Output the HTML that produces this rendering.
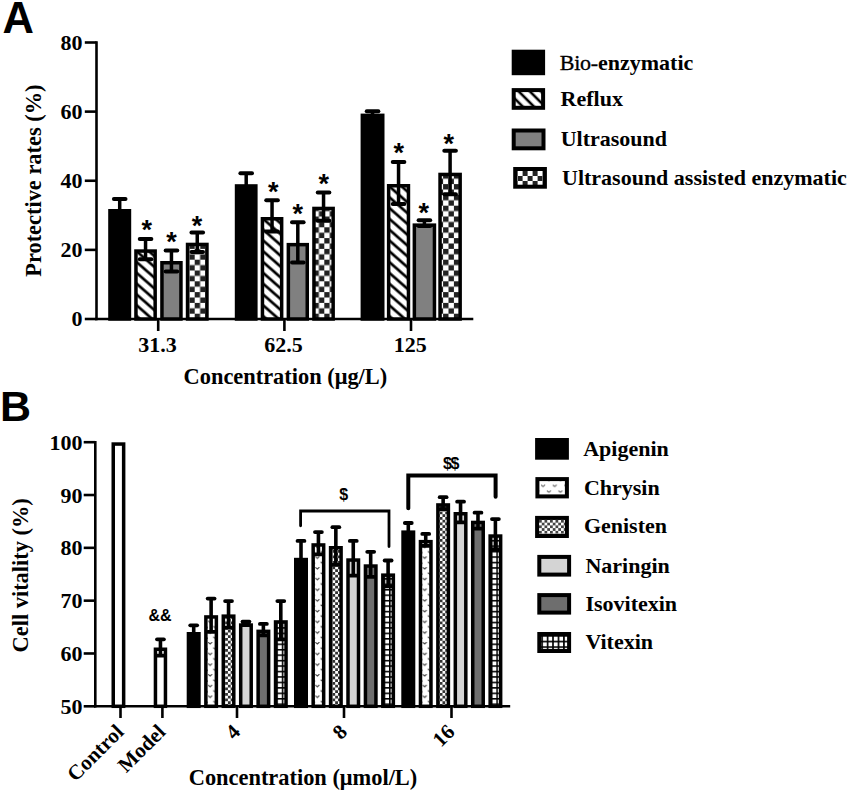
<!DOCTYPE html>
<html><head><meta charset="utf-8"><style>
html,body{margin:0;padding:0;background:#fff;width:852px;height:794px;overflow:hidden}
svg{display:block}
text{font-family:"Liberation Serif",serif;font-weight:bold;fill:#000}
.tA{font-size:22px}
.tB{font-size:22px}
.ax{font-size:22.4px}
.tR{font-size:21px}
.leg{font-size:22px}
.panel{font-family:"Liberation Sans",sans-serif;font-size:43.5px}
.panelB{font-family:"Liberation Sans",sans-serif;font-size:43px}
.ast{font-family:"Liberation Sans",sans-serif;font-size:27px}
.sym{font-family:"Liberation Sans",sans-serif;font-size:16px}
</style></head><body>
<svg width="852" height="794" viewBox="0 0 852 794">
<defs>
<pattern id="hatch" patternUnits="userSpaceOnUse" width="7.8" height="7.8" patternTransform="rotate(-45)">
 <rect width="7.8" height="7.8" fill="#fff"/><rect x="0" y="0" width="3" height="7.8" fill="#000"/></pattern>
<pattern id="hatchL" patternUnits="userSpaceOnUse" width="7.9" height="7.9" patternTransform="translate(519.2,91.9) rotate(-45)">
 <rect width="7.9" height="7.9" fill="#fff"/><rect x="0" y="0" width="1.3" height="7.9" fill="#000"/><rect x="6.6" y="0" width="1.3" height="7.9" fill="#000"/></pattern>
<pattern id="checkA" patternUnits="userSpaceOnUse" width="10.8" height="10.8" x="0.3" y="0.5">
 <rect width="10.8" height="10.8" fill="#fff"/><rect width="5.4" height="5.4" fill="#222"/><rect x="5.4" y="5.4" width="5.4" height="5.4" fill="#222"/></pattern>
<pattern id="checkL" patternUnits="userSpaceOnUse" width="10" height="10" x="517.6" y="171">
 <rect width="10" height="10" fill="#222"/><rect width="5" height="5" fill="#fff"/><rect x="5" y="5" width="5" height="5" fill="#fff"/></pattern>
<pattern id="chrysin" patternUnits="userSpaceOnUse" width="14" height="11.1">
 <rect width="14" height="11.1" fill="#fff"/><path d="M7.5,3 l1.5,2.5 l1.5,-2.5" fill="none" stroke="#999" stroke-width="0.9"/></pattern>
<pattern id="chrysinL" patternUnits="userSpaceOnUse" width="11.6" height="11.6" x="541.1" y="484.5">
 <rect width="11.6" height="11.6" fill="#fff"/><path d="M0,0.5 l2,1.6 l2,-1.8 M5.8,6.3 l2,1.6 l2,-1.8" fill="none" stroke="#555" stroke-width="1"/></pattern>
<pattern id="genis" patternUnits="userSpaceOnUse" width="4.6" height="4.6">
 <rect width="4.6" height="4.6" fill="#fff"/><rect width="2.3" height="2.3" fill="#777"/><rect x="2.3" y="2.3" width="2.3" height="2.3" fill="#777"/></pattern>
<pattern id="grid" patternUnits="userSpaceOnUse" width="5.4" height="5.4" x="0" y="0">
 <rect width="5.4" height="5.4" fill="#000"/><rect x="1.5" y="1.5" width="3.9" height="3.9" fill="#fff"/></pattern>
<pattern id="gridL" patternUnits="userSpaceOnUse" width="5.45" height="5.6" x="541.3" y="635.1">
 <rect width="5.45" height="5.6" fill="#000"/><rect x="1.65" y="1.6" width="3.8" height="4" fill="#fff"/></pattern>
<pattern id="genL" patternUnits="userSpaceOnUse" width="5.5" height="5.5" x="539" y="519.9">
 <rect width="5.5" height="5.5" fill="#fff"/><rect width="2.75" height="2.75" fill="#444"/><rect x="2.75" y="2.75" width="2.75" height="2.75" fill="#444"/></pattern>
<pattern id="chr0" patternUnits="userSpaceOnUse" width="7.6" height="10.7" x="207.92" y="0"><rect width="7.6" height="10.7" fill="#fff"/><path d="M0.2,0.3 l2,1.6 l2,-1.8 M5.4,5.6 l2,1.6 l2,-1.8" fill="none" stroke="#333" stroke-width="1"/></pattern>
<pattern id="gen0" patternUnits="userSpaceOnUse" width="5.5" height="5.5" x="225.14" y="0"><rect width="5.5" height="5.5" fill="#fff"/><rect width="2.75" height="2.75" fill="#333"/><rect x="2.75" y="2.75" width="2.75" height="2.75" fill="#333"/></pattern>
<pattern id="grd0" patternUnits="userSpaceOnUse" width="5.45" height="5.45" x="276.30" y="0.4"><rect width="5.45" height="5.45" fill="#000"/><rect x="1.55" y="1.55" width="3.9" height="3.9" fill="#fff"/></pattern>
<pattern id="chr1" patternUnits="userSpaceOnUse" width="7.6" height="10.7" x="315.22" y="0"><rect width="7.6" height="10.7" fill="#fff"/><path d="M0.2,0.3 l2,1.6 l2,-1.8 M5.4,5.6 l2,1.6 l2,-1.8" fill="none" stroke="#333" stroke-width="1"/></pattern>
<pattern id="gen1" patternUnits="userSpaceOnUse" width="5.5" height="5.5" x="332.44" y="0"><rect width="5.5" height="5.5" fill="#fff"/><rect width="2.75" height="2.75" fill="#333"/><rect x="2.75" y="2.75" width="2.75" height="2.75" fill="#333"/></pattern>
<pattern id="grd1" patternUnits="userSpaceOnUse" width="5.45" height="5.45" x="383.60" y="0.4"><rect width="5.45" height="5.45" fill="#000"/><rect x="1.55" y="1.55" width="3.9" height="3.9" fill="#fff"/></pattern>
<pattern id="chr2" patternUnits="userSpaceOnUse" width="7.6" height="10.7" x="422.52" y="0"><rect width="7.6" height="10.7" fill="#fff"/><path d="M0.2,0.3 l2,1.6 l2,-1.8 M5.4,5.6 l2,1.6 l2,-1.8" fill="none" stroke="#333" stroke-width="1"/></pattern>
<pattern id="gen2" patternUnits="userSpaceOnUse" width="5.5" height="5.5" x="439.74" y="0"><rect width="5.5" height="5.5" fill="#fff"/><rect width="2.75" height="2.75" fill="#333"/><rect x="2.75" y="2.75" width="2.75" height="2.75" fill="#333"/></pattern>
<pattern id="grd2" patternUnits="userSpaceOnUse" width="5.45" height="5.45" x="490.90" y="0.4"><rect width="5.45" height="5.45" fill="#000"/><rect x="1.55" y="1.55" width="3.9" height="3.9" fill="#fff"/></pattern><pattern id="hA0" patternUnits="userSpaceOnUse" width="8.12" height="8.12" patternTransform="translate(137.70,263) rotate(-48.7)"><rect width="8.12" height="8.12" fill="#fff"/><rect x="0" width="1.35" height="8.12" fill="#000"/><rect x="6.77" width="1.35" height="8.12" fill="#000"/></pattern>
<pattern id="hA1" patternUnits="userSpaceOnUse" width="8.12" height="8.12" patternTransform="translate(264.20,263) rotate(-48.7)"><rect width="8.12" height="8.12" fill="#fff"/><rect x="0" width="1.35" height="8.12" fill="#000"/><rect x="6.77" width="1.35" height="8.12" fill="#000"/></pattern>
<pattern id="hA2" patternUnits="userSpaceOnUse" width="8.12" height="8.12" patternTransform="translate(390.40,263) rotate(-48.7)"><rect width="8.12" height="8.12" fill="#fff"/><rect x="0" width="1.35" height="8.12" fill="#000"/><rect x="6.77" width="1.35" height="8.12" fill="#000"/></pattern></defs>
<rect width="852" height="794" fill="#fff"/>
<line x1="96.5" y1="41.2" x2="96.5" y2="320.3" stroke="#000" stroke-width="2.6"/>
<line x1="84.8" y1="319.00" x2="96.5" y2="319.00" stroke="#000" stroke-width="2.6"/>
<text x="82.6" y="326.30" class="tA" text-anchor="end">0</text>
<line x1="84.8" y1="249.88" x2="96.5" y2="249.88" stroke="#000" stroke-width="2.6"/>
<text x="82.6" y="257.18" class="tA" text-anchor="end">20</text>
<line x1="84.8" y1="180.75" x2="96.5" y2="180.75" stroke="#000" stroke-width="2.6"/>
<text x="82.6" y="188.05" class="tA" text-anchor="end">40</text>
<line x1="84.8" y1="111.62" x2="96.5" y2="111.62" stroke="#000" stroke-width="2.6"/>
<text x="82.6" y="118.92" class="tA" text-anchor="end">60</text>
<line x1="84.8" y1="42.50" x2="96.5" y2="42.50" stroke="#000" stroke-width="2.6"/>
<text x="82.6" y="49.80" class="tA" text-anchor="end">80</text>
<line x1="95.2" y1="319.0" x2="473.3" y2="319.0" stroke="#000" stroke-width="2.6"/>
<line x1="158.2" y1="319.0" x2="158.2" y2="331" stroke="#000" stroke-width="2.6"/>
<text x="157.39999999999998" y="352" class="tA" text-anchor="middle">31.3</text>
<line x1="284.4" y1="319.0" x2="284.4" y2="331" stroke="#000" stroke-width="2.6"/>
<text x="283.59999999999997" y="352" class="tA" text-anchor="middle">62.5</text>
<line x1="411.0" y1="319.0" x2="411.0" y2="331" stroke="#000" stroke-width="2.6"/>
<text x="410.2" y="352" class="tA" text-anchor="middle">125</text>
<rect x="109.95" y="210.75" width="19.50" height="108.25" fill="#000" stroke="#000" stroke-width="3.5"/>
<line x1="119.70" y1="199.00" x2="119.70" y2="211.00" stroke="#000" stroke-width="3.5"/>
<line x1="113.90" y1="199.00" x2="125.50" y2="199.00" stroke="#000" stroke-width="4" stroke-linecap="round"/>
<rect x="135.95" y="251.05" width="19.20" height="67.95" fill="url(#hA0)" stroke="#000" stroke-width="3.5"/>
<line x1="145.55" y1="239.00" x2="145.55" y2="259.30" stroke="#000" stroke-width="3.5"/>
<line x1="139.75" y1="239.00" x2="151.35" y2="239.00" stroke="#000" stroke-width="4" stroke-linecap="round"/>
<line x1="139.75" y1="259.30" x2="151.35" y2="259.30" stroke="#000" stroke-width="4" stroke-linecap="round"/>
<rect x="161.95" y="262.75" width="19.00" height="56.25" fill="#808080" stroke="#000" stroke-width="3.5"/>
<line x1="171.45" y1="250.50" x2="171.45" y2="271.50" stroke="#000" stroke-width="3.5"/>
<line x1="165.65" y1="250.50" x2="177.25" y2="250.50" stroke="#000" stroke-width="4" stroke-linecap="round"/>
<line x1="165.65" y1="271.50" x2="177.25" y2="271.50" stroke="#000" stroke-width="4" stroke-linecap="round"/>
<rect x="187.55" y="244.45" width="19.40" height="74.55" fill="url(#checkA)" stroke="#000" stroke-width="3.5"/>
<line x1="197.25" y1="232.50" x2="197.25" y2="252.00" stroke="#000" stroke-width="3.5"/>
<line x1="191.45" y1="232.50" x2="203.05" y2="232.50" stroke="#000" stroke-width="4" stroke-linecap="round"/>
<line x1="191.45" y1="252.00" x2="203.05" y2="252.00" stroke="#000" stroke-width="4" stroke-linecap="round"/>
<rect x="236.55" y="185.95" width="19.30" height="133.05" fill="#000" stroke="#000" stroke-width="3.5"/>
<line x1="246.20" y1="173.20" x2="246.20" y2="186.20" stroke="#000" stroke-width="3.5"/>
<line x1="240.40" y1="173.20" x2="252.00" y2="173.20" stroke="#000" stroke-width="4" stroke-linecap="round"/>
<rect x="262.45" y="218.75" width="19.20" height="100.25" fill="url(#hA1)" stroke="#000" stroke-width="3.5"/>
<line x1="272.05" y1="200.30" x2="272.05" y2="231.40" stroke="#000" stroke-width="3.5"/>
<line x1="266.25" y1="200.30" x2="277.85" y2="200.30" stroke="#000" stroke-width="4" stroke-linecap="round"/>
<line x1="266.25" y1="231.40" x2="277.85" y2="231.40" stroke="#000" stroke-width="4" stroke-linecap="round"/>
<rect x="288.35" y="244.65" width="18.90" height="74.35" fill="#808080" stroke="#000" stroke-width="3.5"/>
<line x1="297.80" y1="222.30" x2="297.80" y2="262.50" stroke="#000" stroke-width="3.5"/>
<line x1="292.00" y1="222.30" x2="303.60" y2="222.30" stroke="#000" stroke-width="4" stroke-linecap="round"/>
<line x1="292.00" y1="262.50" x2="303.60" y2="262.50" stroke="#000" stroke-width="4" stroke-linecap="round"/>
<rect x="313.95" y="208.45" width="19.20" height="110.55" fill="url(#checkA)" stroke="#000" stroke-width="3.5"/>
<line x1="323.55" y1="192.60" x2="323.55" y2="220.70" stroke="#000" stroke-width="3.5"/>
<line x1="317.75" y1="192.60" x2="329.35" y2="192.60" stroke="#000" stroke-width="4" stroke-linecap="round"/>
<line x1="317.75" y1="220.70" x2="329.35" y2="220.70" stroke="#000" stroke-width="4" stroke-linecap="round"/>
<rect x="362.35" y="115.35" width="20.40" height="203.65" fill="#000" stroke="#000" stroke-width="3.5"/>
<line x1="372.55" y1="111.20" x2="372.55" y2="115.60" stroke="#000" stroke-width="3.5"/>
<line x1="366.75" y1="111.20" x2="378.35" y2="111.20" stroke="#000" stroke-width="4" stroke-linecap="round"/>
<rect x="388.65" y="185.75" width="19.80" height="133.25" fill="url(#hA2)" stroke="#000" stroke-width="3.5"/>
<line x1="398.55" y1="162.10" x2="398.55" y2="204.10" stroke="#000" stroke-width="3.5"/>
<line x1="392.75" y1="162.10" x2="404.35" y2="162.10" stroke="#000" stroke-width="4" stroke-linecap="round"/>
<line x1="392.75" y1="204.10" x2="404.35" y2="204.10" stroke="#000" stroke-width="4" stroke-linecap="round"/>
<rect x="414.35" y="225.15" width="20.10" height="93.85" fill="#808080" stroke="#000" stroke-width="3.5"/>
<line x1="424.40" y1="220.30" x2="424.40" y2="226.00" stroke="#000" stroke-width="3.5"/>
<line x1="418.60" y1="220.30" x2="430.20" y2="220.30" stroke="#000" stroke-width="4" stroke-linecap="round"/>
<line x1="418.60" y1="226.00" x2="430.20" y2="226.00" stroke="#000" stroke-width="4" stroke-linecap="round"/>
<rect x="440.05" y="174.45" width="20.10" height="144.55" fill="url(#checkA)" stroke="#000" stroke-width="3.5"/>
<line x1="450.10" y1="150.80" x2="450.10" y2="194.20" stroke="#000" stroke-width="3.5"/>
<line x1="444.30" y1="150.80" x2="455.90" y2="150.80" stroke="#000" stroke-width="4" stroke-linecap="round"/>
<line x1="444.30" y1="194.20" x2="455.90" y2="194.20" stroke="#000" stroke-width="4" stroke-linecap="round"/>
<text x="146.65" y="239.20" class="ast" text-anchor="middle">*</text>
<text x="171.45" y="251.40" class="ast" text-anchor="middle">*</text>
<text x="196.95" y="235.00" class="ast" text-anchor="middle">*</text>
<text x="273.35" y="200.60" class="ast" text-anchor="middle">*</text>
<text x="297.85" y="223.20" class="ast" text-anchor="middle">*</text>
<text x="323.65" y="192.60" class="ast" text-anchor="middle">*</text>
<text x="398.65" y="162.20" class="ast" text-anchor="middle">*</text>
<text x="423.65" y="222.00" class="ast" text-anchor="middle">*</text>
<text x="448.85" y="152.70" class="ast" text-anchor="middle">*</text>
<text x="2.4" y="32.6" class="panel">A</text>
<text x="285.4" y="384.3" class="ax" text-anchor="middle">Concentration (μg/L)</text>
<text transform="translate(41,180.6) rotate(-90)" class="ax" text-anchor="middle">Protective rates (%)</text>
<rect x="511.7" y="49.7" width="33.4" height="25.5" fill="#000"/>
<rect x="513.7" y="90.1" width="29.4" height="17.7" fill="url(#hatchL)" stroke="#000" stroke-width="4"/>
<rect x="513.7" y="130.5" width="29.799999999999997" height="17.8" fill="#808080" stroke="#000" stroke-width="4"/>
<rect x="515.2" y="169" width="29.700000000000003" height="17.7" fill="url(#checkL)" stroke="#000" stroke-width="4"/>
<text x="559.7" y="70.3" class="leg"><tspan font-weight="normal" stroke="#000" stroke-width="0.35" letter-spacing="-0.2">Bio-</tspan>enzymatic</text>
<text x="560.6" y="105.7" class="leg">Reflux</text>
<text x="560.7" y="146.4" class="leg">Ultrasound</text>
<text x="562" y="184.9" class="leg">Ultrasound assisted enzymatic</text>
<text x="0" y="421" class="panelB">B</text>
<line x1="95.3" y1="440.9" x2="95.3" y2="707.5999999999999" stroke="#000" stroke-width="2.6"/>
<line x1="83.7" y1="706.30" x2="95.3" y2="706.30" stroke="#000" stroke-width="2.6"/>
<text x="82.6" y="713.90" class="tB" text-anchor="end">50</text>
<line x1="83.7" y1="653.48" x2="95.3" y2="653.48" stroke="#000" stroke-width="2.6"/>
<text x="82.6" y="661.08" class="tB" text-anchor="end">60</text>
<line x1="83.7" y1="600.66" x2="95.3" y2="600.66" stroke="#000" stroke-width="2.6"/>
<text x="82.6" y="608.26" class="tB" text-anchor="end">70</text>
<line x1="83.7" y1="547.84" x2="95.3" y2="547.84" stroke="#000" stroke-width="2.6"/>
<text x="82.6" y="555.44" class="tB" text-anchor="end">80</text>
<line x1="83.7" y1="495.02" x2="95.3" y2="495.02" stroke="#000" stroke-width="2.6"/>
<text x="82.6" y="502.62" class="tB" text-anchor="end">90</text>
<line x1="83.7" y1="442.20" x2="95.3" y2="442.20" stroke="#000" stroke-width="2.6"/>
<text x="82.6" y="449.80" class="tB" text-anchor="end">100</text>
<line x1="94.0" y1="706.3" x2="510.2" y2="706.3" stroke="#000" stroke-width="2.6"/>
<line x1="120.5" y1="706.3" x2="120.5" y2="718" stroke="#000" stroke-width="2.6"/>
<text transform="translate(124.8,733.2) rotate(-45)" class="tR" text-anchor="end">Control</text>
<line x1="162.4" y1="706.3" x2="162.4" y2="718" stroke="#000" stroke-width="2.6"/>
<text transform="translate(166.7,733.2) rotate(-45)" class="tR" text-anchor="end">Model</text>
<line x1="237.0" y1="706.3" x2="237.0" y2="718" stroke="#000" stroke-width="2.6"/>
<text transform="translate(241.3,733.2) rotate(-45)" class="tR" text-anchor="end">4</text>
<line x1="344.0" y1="706.3" x2="344.0" y2="718" stroke="#000" stroke-width="2.6"/>
<text transform="translate(348.3,733.2) rotate(-45)" class="tR" text-anchor="end">8</text>
<line x1="451.5" y1="706.3" x2="451.5" y2="718" stroke="#000" stroke-width="2.6"/>
<text transform="translate(455.8,733.2) rotate(-45)" class="tR" text-anchor="end">16</text>
<rect x="113.25" y="444.05" width="10.40" height="262.25" fill="#fff" stroke="#000" stroke-width="3.5"/>
<rect x="155.45" y="649.25" width="10.00" height="57.05" fill="#fff" stroke="#000" stroke-width="3.5"/>
<line x1="160.45" y1="639.30" x2="160.45" y2="655.70" stroke="#000" stroke-width="3.6"/>
<line x1="157.00" y1="639.30" x2="163.90" y2="639.30" stroke="#000" stroke-width="3.8" stroke-linecap="round"/>
<line x1="157.00" y1="655.70" x2="163.90" y2="655.70" stroke="#000" stroke-width="3.8" stroke-linecap="round"/>
<text x="160" y="620.5" class="sym" text-anchor="middle">&amp;&amp;</text>
<rect x="188.45" y="633.75" width="10.50" height="72.55" fill="#000" stroke="#000" stroke-width="3.5"/>
<line x1="193.70" y1="625.30" x2="193.70" y2="638.70" stroke="#000" stroke-width="3.6"/>
<line x1="190.25" y1="625.30" x2="197.15" y2="625.30" stroke="#000" stroke-width="3.8" stroke-linecap="round"/>
<line x1="190.25" y1="638.70" x2="197.15" y2="638.70" stroke="#000" stroke-width="3.8" stroke-linecap="round"/>
<rect x="205.87" y="616.95" width="10.50" height="89.35" fill="url(#chr0)" stroke="#000" stroke-width="3.5"/>
<line x1="211.12" y1="598.60" x2="211.12" y2="631.80" stroke="#000" stroke-width="3.6"/>
<line x1="207.67" y1="598.60" x2="214.57" y2="598.60" stroke="#000" stroke-width="3.8" stroke-linecap="round"/>
<line x1="207.67" y1="631.80" x2="214.57" y2="631.80" stroke="#000" stroke-width="3.8" stroke-linecap="round"/>
<rect x="223.29" y="616.15" width="10.50" height="90.15" fill="url(#gen0)" stroke="#000" stroke-width="3.5"/>
<line x1="228.54" y1="601.10" x2="228.54" y2="627.70" stroke="#000" stroke-width="3.6"/>
<line x1="225.09" y1="601.10" x2="231.99" y2="601.10" stroke="#000" stroke-width="3.8" stroke-linecap="round"/>
<line x1="225.09" y1="627.70" x2="231.99" y2="627.70" stroke="#000" stroke-width="3.8" stroke-linecap="round"/>
<rect x="240.71" y="625.05" width="10.50" height="81.25" fill="#d4d4d4" stroke="#000" stroke-width="3.5"/>
<line x1="245.96" y1="621.60" x2="245.96" y2="625.00" stroke="#000" stroke-width="3.6"/>
<line x1="242.51" y1="621.60" x2="249.41" y2="621.60" stroke="#000" stroke-width="3.8" stroke-linecap="round"/>
<line x1="242.51" y1="625.00" x2="249.41" y2="625.00" stroke="#000" stroke-width="3.8" stroke-linecap="round"/>
<rect x="258.13" y="631.35" width="10.50" height="74.95" fill="#6e6e6e" stroke="#000" stroke-width="3.5"/>
<line x1="263.38" y1="623.90" x2="263.38" y2="635.30" stroke="#000" stroke-width="3.6"/>
<line x1="259.93" y1="623.90" x2="266.83" y2="623.90" stroke="#000" stroke-width="3.8" stroke-linecap="round"/>
<line x1="259.93" y1="635.30" x2="266.83" y2="635.30" stroke="#000" stroke-width="3.8" stroke-linecap="round"/>
<rect x="275.55" y="621.95" width="10.50" height="84.35" fill="url(#grd0)" stroke="#000" stroke-width="3.5"/>
<line x1="280.80" y1="601.10" x2="280.80" y2="639.30" stroke="#000" stroke-width="3.6"/>
<line x1="277.35" y1="601.10" x2="284.25" y2="601.10" stroke="#000" stroke-width="3.8" stroke-linecap="round"/>
<line x1="277.35" y1="639.30" x2="284.25" y2="639.30" stroke="#000" stroke-width="3.8" stroke-linecap="round"/>
<rect x="295.75" y="559.55" width="10.50" height="146.75" fill="#000" stroke="#000" stroke-width="3.5"/>
<line x1="301.00" y1="540.90" x2="301.00" y2="574.70" stroke="#000" stroke-width="3.6"/>
<line x1="297.55" y1="540.90" x2="304.45" y2="540.90" stroke="#000" stroke-width="3.8" stroke-linecap="round"/>
<line x1="297.55" y1="574.70" x2="304.45" y2="574.70" stroke="#000" stroke-width="3.8" stroke-linecap="round"/>
<rect x="313.17" y="544.95" width="10.50" height="161.35" fill="url(#chr1)" stroke="#000" stroke-width="3.5"/>
<line x1="318.42" y1="532.10" x2="318.42" y2="554.30" stroke="#000" stroke-width="3.6"/>
<line x1="314.97" y1="532.10" x2="321.87" y2="532.10" stroke="#000" stroke-width="3.8" stroke-linecap="round"/>
<line x1="314.97" y1="554.30" x2="321.87" y2="554.30" stroke="#000" stroke-width="3.8" stroke-linecap="round"/>
<rect x="330.59" y="547.75" width="10.50" height="158.55" fill="url(#gen1)" stroke="#000" stroke-width="3.5"/>
<line x1="335.84" y1="527.20" x2="335.84" y2="564.80" stroke="#000" stroke-width="3.6"/>
<line x1="332.39" y1="527.20" x2="339.29" y2="527.20" stroke="#000" stroke-width="3.8" stroke-linecap="round"/>
<line x1="332.39" y1="564.80" x2="339.29" y2="564.80" stroke="#000" stroke-width="3.8" stroke-linecap="round"/>
<rect x="348.01" y="560.05" width="10.50" height="146.25" fill="#d4d4d4" stroke="#000" stroke-width="3.5"/>
<line x1="353.26" y1="540.90" x2="353.26" y2="575.70" stroke="#000" stroke-width="3.6"/>
<line x1="349.81" y1="540.90" x2="356.71" y2="540.90" stroke="#000" stroke-width="3.8" stroke-linecap="round"/>
<line x1="349.81" y1="575.70" x2="356.71" y2="575.70" stroke="#000" stroke-width="3.8" stroke-linecap="round"/>
<rect x="365.43" y="566.05" width="10.50" height="140.25" fill="#6e6e6e" stroke="#000" stroke-width="3.5"/>
<line x1="370.68" y1="551.80" x2="370.68" y2="576.80" stroke="#000" stroke-width="3.6"/>
<line x1="367.23" y1="551.80" x2="374.13" y2="551.80" stroke="#000" stroke-width="3.8" stroke-linecap="round"/>
<line x1="367.23" y1="576.80" x2="374.13" y2="576.80" stroke="#000" stroke-width="3.8" stroke-linecap="round"/>
<rect x="382.85" y="575.15" width="10.50" height="131.15" fill="url(#grd1)" stroke="#000" stroke-width="3.5"/>
<line x1="388.10" y1="560.50" x2="388.10" y2="586.30" stroke="#000" stroke-width="3.6"/>
<line x1="384.65" y1="560.50" x2="391.55" y2="560.50" stroke="#000" stroke-width="3.8" stroke-linecap="round"/>
<line x1="384.65" y1="586.30" x2="391.55" y2="586.30" stroke="#000" stroke-width="3.8" stroke-linecap="round"/>
<rect x="403.05" y="532.15" width="10.50" height="174.15" fill="#000" stroke="#000" stroke-width="3.5"/>
<line x1="408.30" y1="523.00" x2="408.30" y2="537.80" stroke="#000" stroke-width="3.6"/>
<line x1="404.85" y1="523.00" x2="411.75" y2="523.00" stroke="#000" stroke-width="3.8" stroke-linecap="round"/>
<line x1="404.85" y1="537.80" x2="411.75" y2="537.80" stroke="#000" stroke-width="3.8" stroke-linecap="round"/>
<rect x="420.47" y="541.65" width="10.50" height="164.65" fill="url(#chr2)" stroke="#000" stroke-width="3.5"/>
<line x1="425.72" y1="533.90" x2="425.72" y2="545.90" stroke="#000" stroke-width="3.6"/>
<line x1="422.27" y1="533.90" x2="429.17" y2="533.90" stroke="#000" stroke-width="3.8" stroke-linecap="round"/>
<line x1="422.27" y1="545.90" x2="429.17" y2="545.90" stroke="#000" stroke-width="3.8" stroke-linecap="round"/>
<rect x="437.89" y="504.95" width="10.50" height="201.35" fill="url(#gen2)" stroke="#000" stroke-width="3.5"/>
<line x1="443.14" y1="497.20" x2="443.14" y2="509.20" stroke="#000" stroke-width="3.6"/>
<line x1="439.69" y1="497.20" x2="446.59" y2="497.20" stroke="#000" stroke-width="3.8" stroke-linecap="round"/>
<line x1="439.69" y1="509.20" x2="446.59" y2="509.20" stroke="#000" stroke-width="3.8" stroke-linecap="round"/>
<rect x="455.31" y="513.75" width="10.50" height="192.55" fill="#d4d4d4" stroke="#000" stroke-width="3.5"/>
<line x1="460.56" y1="501.70" x2="460.56" y2="522.30" stroke="#000" stroke-width="3.6"/>
<line x1="457.11" y1="501.70" x2="464.01" y2="501.70" stroke="#000" stroke-width="3.8" stroke-linecap="round"/>
<line x1="457.11" y1="522.30" x2="464.01" y2="522.30" stroke="#000" stroke-width="3.8" stroke-linecap="round"/>
<rect x="472.73" y="522.45" width="10.50" height="183.85" fill="#6e6e6e" stroke="#000" stroke-width="3.5"/>
<line x1="477.98" y1="512.70" x2="477.98" y2="528.70" stroke="#000" stroke-width="3.6"/>
<line x1="474.53" y1="512.70" x2="481.43" y2="512.70" stroke="#000" stroke-width="3.8" stroke-linecap="round"/>
<line x1="474.53" y1="528.70" x2="481.43" y2="528.70" stroke="#000" stroke-width="3.8" stroke-linecap="round"/>
<rect x="490.15" y="536.05" width="10.50" height="170.25" fill="url(#grd2)" stroke="#000" stroke-width="3.5"/>
<line x1="495.40" y1="519.10" x2="495.40" y2="549.50" stroke="#000" stroke-width="3.6"/>
<line x1="491.95" y1="519.10" x2="498.85" y2="519.10" stroke="#000" stroke-width="3.8" stroke-linecap="round"/>
<line x1="491.95" y1="549.50" x2="498.85" y2="549.50" stroke="#000" stroke-width="3.8" stroke-linecap="round"/>
<path d="M300.6,525.8 V511 H389 V546.5" fill="none" stroke="#000" stroke-width="2.8" stroke-linecap="round"/>
<text x="343.6" y="499.6" class="sym" text-anchor="middle">$</text>
<path d="M408.3,508.3 V475.6 H495.6 V496.8" fill="none" stroke="#000" stroke-width="4" stroke-linecap="round"/>
<text x="443.0" y="469.3" class="sym" letter-spacing="-1.3">$$</text>
<text x="303" y="785.2" class="ax" text-anchor="middle">Concentration (μmol/L)</text>
<text transform="translate(28,575.3) rotate(-90)" class="ax" text-anchor="middle">Cell vitality (%)</text>
<rect x="535.1" y="438.0" width="33.8" height="21.7" fill="#000"/>
<text x="583.2" y="456.1" class="leg">Apigenin</text>
<rect x="537.4" y="479.1" width="29.5" height="17.3" fill="url(#chrysinL)" stroke="#000" stroke-width="4"/>
<text x="583.9" y="494.5" class="leg">Chrysin</text>
<rect x="537.1" y="517.9" width="29.799999999999997" height="18.1" fill="url(#genL)" stroke="#000" stroke-width="4"/>
<text x="583.9" y="533.2" class="leg">Genisten</text>
<rect x="539.3" y="556.9" width="29.799999999999997" height="17.7" fill="#d4d4d4" stroke="#000" stroke-width="4"/>
<text x="585.4" y="572.8" class="leg">Naringin</text>
<rect x="539.3" y="595.1" width="29.799999999999997" height="17.5" fill="#6e6e6e" stroke="#000" stroke-width="4"/>
<text x="585.4" y="611.0" class="leg">Isovitexin</text>
<rect x="539.3" y="634.0" width="29.799999999999997" height="17.0" fill="url(#gridL)" stroke="#000" stroke-width="4"/>
<text x="585.4" y="649.3" class="leg">Vitexin</text>
</svg>
</body></html>
